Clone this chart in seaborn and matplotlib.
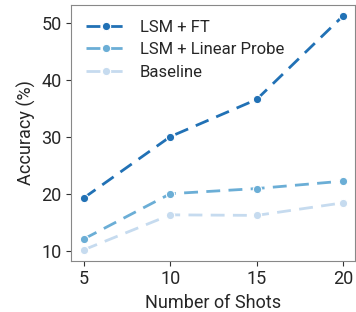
import pandas as pd
import matplotlib
matplotlib.use("Agg")
import matplotlib.pyplot as plt
import seaborn as sns

shots = [5, 10, 15, 20]
lsm_ft = [19.4, 30.1, 36.6, 51.2]
lsm_linear_probe = [12.2, 20.1, 21.0, 22.3]
baseline = [10.3, 16.4, 16.3, 18.5]

methods = ["LSM + FT", "LSM + Linear Probe", "Baseline"]
colors = ["#2171b5", "#6baed6", "#c6dbef"]

df = pd.DataFrame({
    "shots": shots * 3,
    "acc": lsm_ft + lsm_linear_probe + baseline,
    "method": [m for m in methods for _ in shots],
})

sns.set_style("ticks")
plt.rcParams["font.family"] = ["Roboto", "DejaVu Sans"]

fig, ax = plt.subplots(figsize=(3.56, 3.12), dpi=100)
sns.lineplot(data=df, x="shots", y="acc", hue="method", hue_order=methods,
             palette=colors, marker="o", markersize=6, markeredgewidth=0.8,
             markeredgecolor="white", linewidth=2, ax=ax)
for line in ax.lines:
    line.set_dashes([5, 3])

ax.set_xlim(4.25, 20.7)
ax.set_ylim(8.4, 53.2)
ax.set_xticks([5, 10, 15, 20])
ax.set_yticks([10, 20, 30, 40, 50])
ax.tick_params(labelsize=13, color="#333333")
ax.set_xlabel("Number of Shots", fontsize=13)
ax.set_ylabel("Accuracy (%)", fontsize=13)
for s in ax.spines.values():
    s.set_visible(True)
    s.set_color("#888888")

leg = ax.legend(loc="upper left", frameon=False, fontsize=12, handlelength=2.4,
                labelspacing=0.45)
for h in leg.get_lines():
    h.set_dashes([5, 3])

fig.subplots_adjust(left=0.2, right=0.997, top=0.985, bottom=0.165)
fig.savefig("out.png", dpi=100)
